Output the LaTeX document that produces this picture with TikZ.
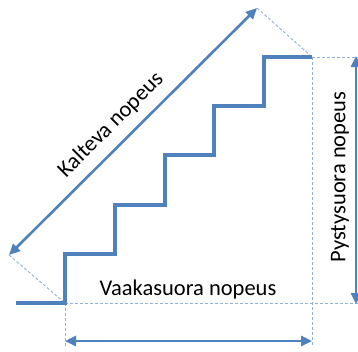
\documentclass[tikz,border=0pt]{standalone}
\usepackage{fontspec}
\setmainfont{Carlito}
\usetikzlibrary{arrows.meta}
\definecolor{stairblue}{HTML}{4F81BD}
\definecolor{dashblue}{HTML}{8EB0DB}
\begin{document}
\begin{tikzpicture}[x=1pt,y=-1pt,
  stairline/.style={draw=stairblue,line width=4pt,line join=miter},
  dimarrow/.style={draw=stairblue,line width=2.6pt,{Triangle[length=11pt,width=10pt]}-{Triangle[length=11pt,width=10pt]}},
  guide/.style={draw=dashblue,line width=0.9pt,dash pattern=on 3pt off 2pt},
  label/.style={font=\fontsize{22.5}{27}\selectfont,text=black,inner sep=0pt}]
\useasboundingbox (0,0) rectangle (358,351);
% named points
\coordinate (s0) at (16,303);
\coordinate (b) at (65,303);
\coordinate (t) at (312,57);
\coordinate (dTop) at (257,8);
\coordinate (dBot) at (9,255);
\coordinate (rTop) at (356,57);
\coordinate (rBot) at (356,303);
\coordinate (hL) at (65,341);
\coordinate (hR) at (312,341);
\coordinate (gL) at (65,346);
\coordinate (gR) at (312,346);
\coordinate (eTop) at (358,57);
\coordinate (eBot) at (358,303);
% guides
\draw[guide] (b) -- (eBot);
\draw[guide] (t) -- (eTop);
\draw[guide] (t) -- (gR);
\draw[guide] (b) -- (gL);
\draw[guide] (dTop) -- (t);
\draw[guide] (dBot) -- (b);
% stairs
\draw[stairline] (s0) -- (b) -- (65,254) -- (115,254) -- (115,205) -- (165,205) -- (165,155) -- (214,155) -- (214,106) -- (264,106) -- (264,57) -- (t);
% arrows
\draw[dimarrow] (dBot) -- (dTop);
\draw[dimarrow] (hL) -- (hR);
\draw[dimarrow] ([yshift=1pt]rTop) -- ([yshift=-1pt]rBot);
% labels
\node[label,rotate=45] (kal) at (111,125) {Kalteva nopeus};
\node[label] (vaa) at (188,289) {Vaakasuora nopeus};
\node[label,rotate=90] (pys) at (340,177) {Pystysuora nopeus};
\end{tikzpicture}
\end{document}
